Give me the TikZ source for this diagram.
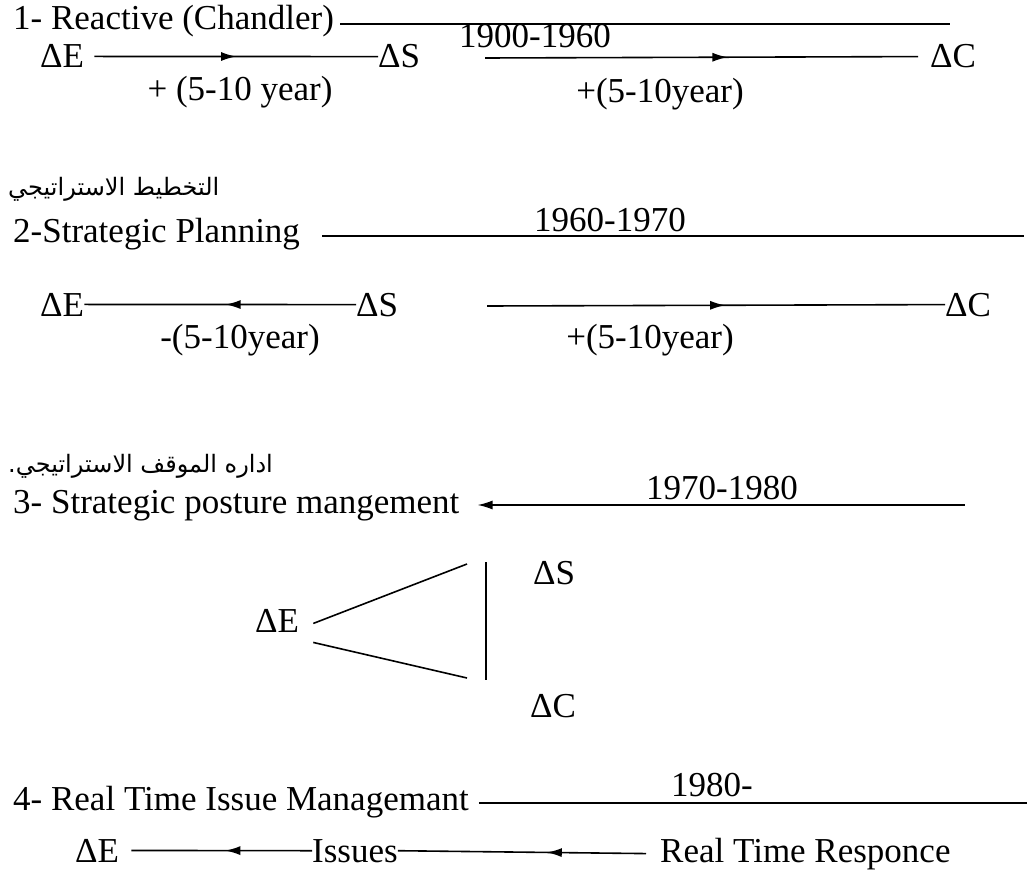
\documentclass[tikz,border=0pt]{standalone}
\usepackage{fontspec}
\setmainfont{Liberation Serif}
\newfontfamily\arabicfont[Script=Arabic]{DejaVu Sans}
\TeXXeTstate=1
\usetikzlibrary{arrows.meta,decorations.markings}

\tikzset{
  txt/.style={inner sep=0pt, font=\fontsize{35}{40}\selectfont},
  artxt/.style={inner sep=0pt, font=\arabicfont\fontsize{24}{28}\selectfont},
  ln/.style={line width=1.6pt},
  fwd/.style={ln, postaction=decorate, decoration={markings,
      mark=at position #1 with {\arrow{Latex[length=15pt,width=9pt]}}}},
  bwd/.style={ln, postaction=decorate, decoration={markings,
      mark=at position #1 with {\arrowreversed{Latex[length=15pt,width=9pt]}}}},
}

\begin{document}
\begin{tikzpicture}[x=1pt,y=-1pt]
\useasboundingbox (0,0) rectangle (1029,872);

% ---------- 1- Reactive ----------
\node[txt, anchor=base west] (t1) at (13,30) {1- Reactive (Chandler)};
\coordinate (t1end) at (950,24);
\draw[ln] ([xshift=6pt]t1.east |- t1end) -- (t1end);

\node[txt, anchor=base west] (e1) at (40,68) {ΔE};
\node[txt, anchor=base west] (s1) at (378,68) {ΔS};
\draw[fwd=0.5] ([xshift=10pt]e1.east) -- (s1.west);
\node[txt, anchor=base] (y1) at (240,101) {+ (5-10 year)};

\node[txt, anchor=base] (d1) at (535,48) {1900-1960};
\node[txt, anchor=base west] (c1) at (930,68) {ΔC};
\coordinate (r1) at (485,58);
\draw[fwd=0.56] (r1) -- ([xshift=-12pt]c1.west);
\node[txt, anchor=base] (y1b) at (660,103) {+(5-10year)};

% ---------- 2- Strategic Planning ----------
\node[artxt, anchor=base west] (a2) at (8,196) {\beginR التخطيط الاستراتيجي\endR};
\node[txt, anchor=base west] (t2) at (13,243) {2-Strategic Planning};
\coordinate (t2end) at (1024,236);
\draw[ln] ([xshift=22pt]t2.east |- t2end) -- (t2end);
\node[txt, anchor=base] (d2) at (610,231) {1960-1970};

\node[txt, anchor=base west] (e2) at (40,316) {ΔE};
\node[txt, anchor=base west] (s2) at (356,316) {ΔS};
\draw[bwd=0.52] (e2.east) -- (s2.west);
\node[txt, anchor=base] (y2) at (240,348) {-(5-10year)};

\node[txt, anchor=base west] (c2) at (945,316) {ΔC};
\coordinate (r2) at (487,306);
\draw[fwd=0.52] (r2) -- (c2.west);
\node[txt, anchor=base] (y2b) at (650,348) {+(5-10year)};

% ---------- 3- Strategic posture ----------
\node[artxt, anchor=base west] (a3) at (8,472) {\beginR اداره الموقف الاستراتيجي.\endR};
\node[txt, anchor=base west] (t3) at (13,513) {3- Strategic posture mangement};
\coordinate (t3end) at (965,505);
\draw[ln, {Latex[length=15pt,width=9pt]}-] ([xshift=18pt]t3.east |- t3end) -- (t3end);
\node[txt, anchor=base] (d3) at (722,499) {1970-1980};

\node[txt, anchor=base west] (e3) at (255,632) {ΔE};
\node[txt, anchor=base west] (s3) at (533,584) {ΔS};
\node[txt, anchor=base west] (c3) at (530,717) {ΔC};
\coordinate (u3) at (467,564);
\coordinate (l3) at (467,678);
\draw[ln] ([xshift=14pt,yshift=-3pt]e3.east) -- (u3);
\draw[ln] ([xshift=14pt,yshift=-22pt]e3.east) -- (l3);
\coordinate (v3a) at (486,562);
\coordinate (v3b) at (486,680);
\draw[ln] (v3a) -- (v3b);

% ---------- 4- Real Time Issue ----------
\node[txt, anchor=base west] (t4) at (13,810) {4- Real Time Issue Managemant};
\coordinate (t4end) at (1027,803);
\draw[ln] ([xshift=10pt]t4.east |- t4end) -- (t4end);
\node[txt, anchor=base] (d4) at (712,796) {1980-};

\node[txt, anchor=base west] (e4) at (75,862) {ΔE};
\node[txt, anchor=base west] (i4) at (312,862) {Issues};
\node[txt, anchor=base west] (rt) at (660,862) {Real Time Responce};
\draw[bwd=0.52] ([xshift=12pt]e4.east) -- (i4.west);
\draw[bwd=0.6] (i4.east) -- ([xshift=-14pt]rt.west);
\end{tikzpicture}
\end{document}
